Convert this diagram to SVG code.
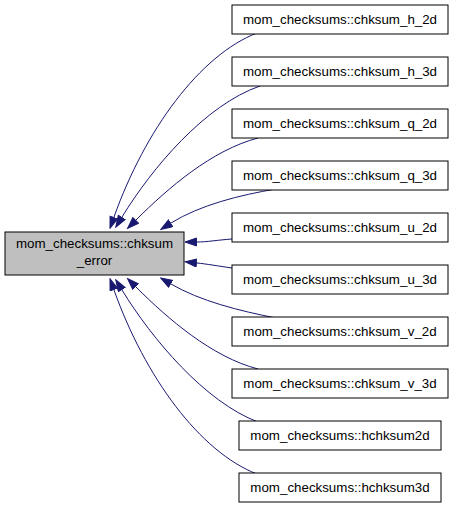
<svg xmlns="http://www.w3.org/2000/svg" width="453" height="505" viewBox="0 0 453 505">
<style>
.node rect{fill:#ffffff;stroke:#000000;stroke-width:1}
#main rect{fill:#bfbfbf}
text{font-family:"Liberation Sans",Arial,sans-serif;font-size:13.33px;text-anchor:middle;fill:#000000}
.edges path{fill:none;stroke:#191970;stroke-width:1}
</style>
<defs>
<marker id="arr" markerUnits="userSpaceOnUse" markerWidth="13" markerHeight="10" refX="0" refY="4.5" orient="auto">
<path d="M0.5,0.5 L12,4.5 L0.5,8.5 z" fill="#191970" stroke="#191970" stroke-width="1"/>
</marker>
</defs>
<rect x="0" y="0" width="453" height="505" fill="#ffffff"/>
<g class="edges">
<path d="M257,33 C200,55 145,130 114,217" marker-end="url(#arr)"/>
<path d="M260,86 C205,105 152,168 122,217" marker-end="url(#arr)"/>
<path d="M258,138 C212,150 168,188 136,220" marker-end="url(#arr)"/>
<path d="M276,189 C240,195 200,205 171,223" marker-end="url(#arr)"/>
<path d="M232,239 C218,240 207,242 197,242" marker-end="url(#arr)"/>
<path d="M232,268 C218,266 207,264 197,263" marker-end="url(#arr)"/>
<path d="M276,318 C240,311 200,301 171,284" marker-end="url(#arr)"/>
<path d="M258,369 C212,357 168,319 136,287" marker-end="url(#arr)"/>
<path d="M258,422 C205,402 152,339 122,290" marker-end="url(#arr)"/>
<path d="M257,474 C200,452 145,377 114,290" marker-end="url(#arr)"/>
</g>
<g id="main" class="node"><rect x="5" y="232" width="179" height="43"/><text x="94.5" y="248">mom_checksums::chksum</text><text x="94.5" y="265">_error</text></g>
<g id="n1" class="node"><rect x="232" y="5" width="216" height="29"/><text x="340" y="24">mom_checksums::chksum_h_2d</text></g>
<g id="n2" class="node"><rect x="232" y="57" width="216" height="29"/><text x="340" y="76">mom_checksums::chksum_h_3d</text></g>
<g id="n3" class="node"><rect x="232" y="109" width="216" height="29"/><text x="340" y="128">mom_checksums::chksum_q_2d</text></g>
<g id="n4" class="node"><rect x="232" y="161" width="216" height="29"/><text x="340" y="180">mom_checksums::chksum_q_3d</text></g>
<g id="n5" class="node"><rect x="232" y="213" width="216" height="29"/><text x="340" y="232">mom_checksums::chksum_u_2d</text></g>
<g id="n6" class="node"><rect x="232" y="265" width="216" height="29"/><text x="340" y="284">mom_checksums::chksum_u_3d</text></g>
<g id="n7" class="node"><rect x="232" y="317" width="216" height="29"/><text x="340" y="336">mom_checksums::chksum_v_2d</text></g>
<g id="n8" class="node"><rect x="232" y="369" width="216" height="29"/><text x="340" y="388">mom_checksums::chksum_v_3d</text></g>
<g id="n9" class="node"><rect x="239" y="421" width="202" height="29"/><text x="340" y="440">mom_checksums::hchksum2d</text></g>
<g id="n10" class="node"><rect x="239" y="473" width="202" height="29"/><text x="340" y="492">mom_checksums::hchksum3d</text></g>
</svg>
